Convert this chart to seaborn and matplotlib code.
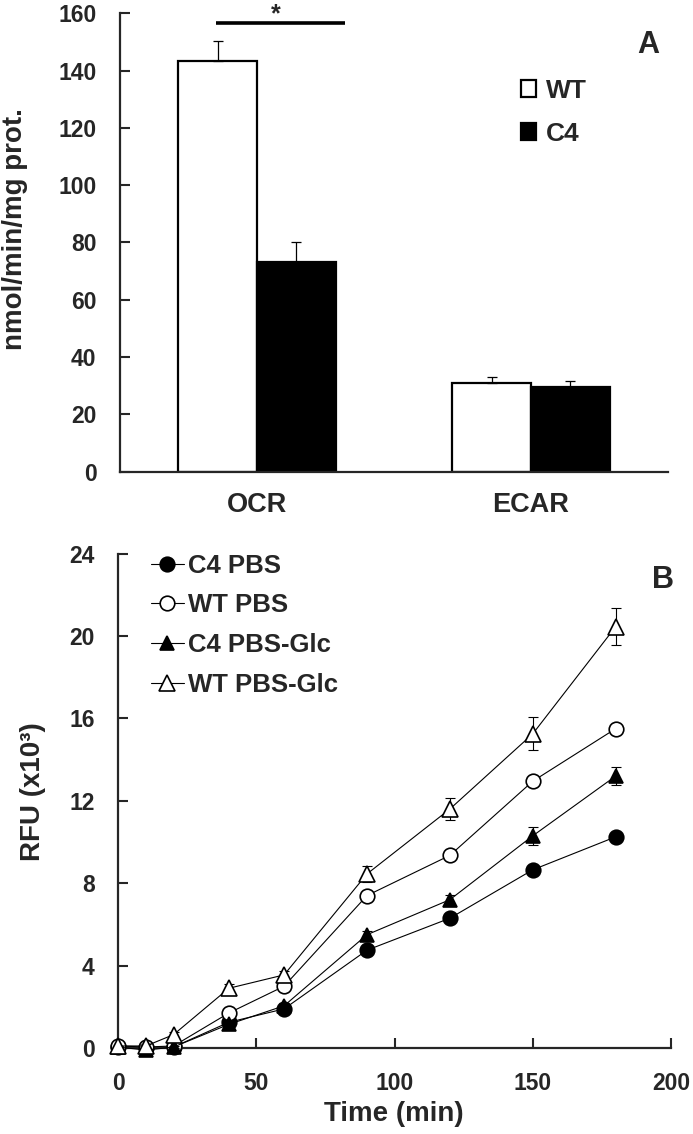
import matplotlib
matplotlib.use("Agg")
import matplotlib.pyplot as plt
import seaborn as sns
import pandas as pd
import numpy as np
from matplotlib.lines import Line2D
from matplotlib.patches import Patch

# ---------------- Data ----------------
# Panel A
categories = ["OCR", "ECAR"]
groups = ["WT", "C4"]
wt_values = [143.5, 31.0]
c4_values = [73.2, 29.4]
wt_err = [6.7, 2.0]
c4_err = [7.0, 2.2]

# Panel B
times = [0, 10, 20, 40, 60, 90, 120, 150, 180]
c4_pbs = [0.05, 0.0, 0.05, 1.25, 1.9, 4.75, 6.3, 8.65, 10.25]
wt_pbs = [0.1, 0.05, 0.1, 1.7, 3.0, 7.4, 9.35, 12.95, 15.5]
c4_glc = [0.05, -0.1, 0.05, 1.15, 2.05, 5.5, 7.2, 10.3, 13.2]
wt_glc = [0.1, 0.1, 0.65, 2.9, 3.55, 8.45, 11.6, 15.25, 20.45]
c4_pbs_err = [0, 0, 0, 0.1, 0.1, 0.2, 0.2, 0.2, 0.2]
wt_pbs_err = [0, 0, 0, 0.1, 0.2, 0.2, 0.2, 0.2, 0.2]
c4_glc_err = [0, 0, 0.05, 0.1, 0.15, 0.2, 0.25, 0.45, 0.45]
wt_glc_err = [0, 0.1, 0.15, 0.2, 0.2, 0.4, 0.55, 0.8, 0.9]
series_names = ["C4 PBS", "WT PBS", "C4 PBS-Glc", "WT PBS-Glc"]

# ---------------- Style ----------------
sns.set_style("ticks")
plt.rcParams["font.family"] = ["Liberation Sans", "DejaVu Sans"]
plt.rcParams["font.weight"] = "bold"
plt.rcParams["axes.labelweight"] = "bold"

fig = plt.figure(figsize=(6.93, 11.34), dpi=100)
axA = fig.add_axes([0.1732, 0.5842, 0.7908, 0.4041])
axB = fig.add_axes([0.1707, 0.0758, 0.7975, 0.4361])

# ---------------- Panel A ----------------
dfA = pd.DataFrame({
    "cat": categories * 2,
    "grp": ["WT"] * 2 + ["C4"] * 2,
    "val": wt_values + c4_values,
})
sns.barplot(data=dfA, x="cat", y="val", hue="grp", hue_order=groups, order=categories,
            palette=["white", "black"], edgecolor="black", linewidth=1.6,
            width=0.575, errorbar=None, ax=axA, legend=False, saturation=1)

errs = [wt_err, c4_err]
for cont, e in zip(axA.containers, errs):
    for bar, ev in zip(cont, e):
        xc = bar.get_x() + bar.get_width() / 2
        axA.errorbar(xc, bar.get_height(), yerr=[[0], [ev]], fmt="none",
                     ecolor="black", elinewidth=0.9, capsize=3.5, capthick=0.9, zorder=1)

axA.set_xlim(-0.5, 1.5)
axA.set_ylim(0, 160)
axA.set_yticks(range(0, 161, 20))
axA.set_xlabel("")
axA.set_ylabel("nmol/min/mg prot.", fontsize=20, fontweight="bold")
axA.yaxis.set_label_coords(-0.168, 0.528)
sns.despine(ax=axA)
for s in ["left", "bottom"]:
    axA.spines[s].set_linewidth(1.6)
axA.tick_params(axis="y", direction="in", length=7, width=1.5, labelsize=16.5, pad=17)
axA.tick_params(axis="x", length=0, labelsize=19.5, pad=15)
for t in axA.get_xticklabels() + axA.get_yticklabels():
    t.set_fontweight("bold")

# significance
axA.plot([-0.15, 0.32], [156.5, 156.5], color="black", lw=2.6, clip_on=False,
         solid_capstyle="butt")
axA.text(0.07, 155.5, "*", ha="center", va="bottom", fontsize=18, fontweight="bold")
axA.text(0.9635, 0.931, "A", transform=axA.transAxes, ha="center", va="center",
         fontsize=22, fontweight="bold")

handlesA = [Patch(facecolor="white", edgecolor="black", linewidth=1.6, label="WT"),
            Patch(facecolor="black", edgecolor="black", linewidth=1.6, label="C4")]
axA.legend(handles=handlesA, loc="upper left", bbox_to_anchor=(0.732, 0.857),
           frameon=False, prop={"size": 19, "weight": "bold"},
           handlelength=0.58, handleheight=0.58, handletextpad=0.35,
           labelspacing=0.72, borderpad=0, borderaxespad=0)

# ---------------- Panel B ----------------
dfB = pd.DataFrame({
    "time": times * 4,
    "rfu": c4_pbs + wt_pbs + c4_glc + wt_glc,
    "err": c4_pbs_err + wt_pbs_err + c4_glc_err + wt_glc_err,
    "series": sum([[n] * len(times) for n in series_names], []),
})
markers = {"C4 PBS": "o", "WT PBS": "o", "C4 PBS-Glc": "^", "WT PBS-Glc": "^"}
faces = {"C4 PBS": "black", "WT PBS": "white", "C4 PBS-Glc": "black", "WT PBS-Glc": "white"}
msize = {"C4 PBS": 10.5, "WT PBS": 10.5, "C4 PBS-Glc": 10.5, "WT PBS-Glc": 11}

for i, name in enumerate(series_names):
    sub = dfB[dfB["series"] == name]
    axB.errorbar(sub["time"], sub["rfu"], yerr=sub["err"], fmt="none", ecolor="black",
                 elinewidth=0.8, capsize=3.5, capthick=0.8, zorder=2 + i, clip_on=False)
    sns.lineplot(data=sub, x="time", y="rfu", ax=axB, color="black", linewidth=0.8,
                 marker=markers[name], markersize=msize[name],
                 markerfacecolor=faces[name], markeredgecolor="black",
                 markeredgewidth=1.2, label=name, zorder=2 + i, clip_on=False,
                 errorbar=None, estimator=None)

axB.set_xlim(0, 200)
axB.set_ylim(0, 24)
axB.set_xticks(range(0, 201, 50))
axB.set_yticks(range(0, 25, 4))
axB.set_xlabel("Time (min)", fontsize=20, fontweight="bold")
axB.set_ylabel("RFU (x10³)", fontsize=20, fontweight="bold")
axB.xaxis.set_label_coords(0.499, -0.108)
axB.xaxis.label.set_va("top")
axB.yaxis.set_label_coords(-0.131, 0.519)
sns.despine(ax=axB)
for s in ["left", "bottom"]:
    axB.spines[s].set_linewidth(1.6)
axB.tick_params(axis="both", direction="in", length=7, width=1.5, labelsize=16.5)
axB.tick_params(axis="y", pad=17)
axB.tick_params(axis="x", pad=17)
for t in axB.get_xticklabels() + axB.get_yticklabels():
    t.set_fontweight("bold")

axB.text(0.9855, 0.946, "B", transform=axB.transAxes, ha="center", va="center",
         fontsize=22, fontweight="bold")

handlesB = [Line2D([0], [0], color="black", lw=0.8, marker=markers[n],
                   markersize=msize[n], markerfacecolor=faces[n],
                   markeredgecolor="black", markeredgewidth=1.2) for n in series_names]
axB.legend(handles=handlesB, labels=series_names, loc="upper left",
           bbox_to_anchor=(0.0586, 1.0), frameon=False,
           prop={"size": 18.5, "weight": "bold"}, handlelength=1.3,
           handletextpad=0.15, labelspacing=0.62, borderpad=0, borderaxespad=0)

fig.savefig("out.png", dpi=100)
